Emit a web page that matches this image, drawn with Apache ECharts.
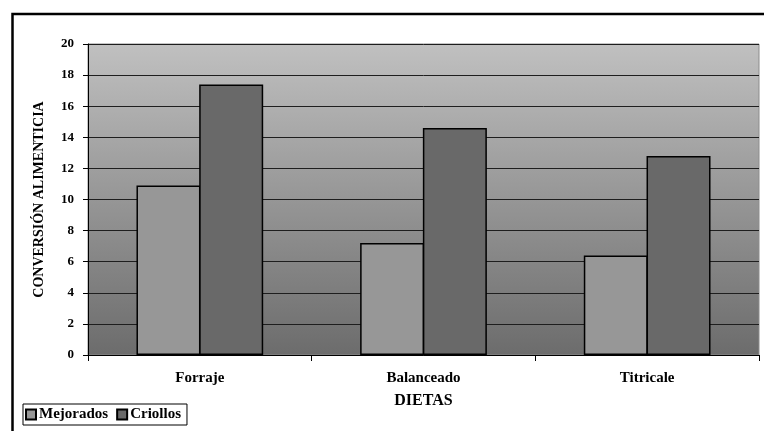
<!DOCTYPE html>
<html>
<head>
<meta charset="utf-8">
<style>
  html, body { margin: 0; padding: 0; background: #fff; }
  #chart { width: 764px; height: 431px; }
</style>
<script src="https://cdn.jsdelivr.net/npm/echarts@6/dist/echarts.min.js"></script>
</head>
<body>
<div id="chart"></div>
<script>
// Feed conversion by diet, improved vs. native animals
const dietas = ['Forraje', 'Balanceado', 'Titricale'];
const mejorados = [10.9, 7.2, 6.4];
const criollos = [17.4, 14.6, 12.8];
const seriesNames = ['Mejorados', 'Criollos'];

const SERIF = '"Liberation Serif", "Times New Roman", serif';

const chart = echarts.init(document.getElementById('chart'), null, { renderer: 'canvas' });

chart.setOption({
  animation: false,
  backgroundColor: '#ffffff',
  textStyle: { fontFamily: SERIF },
  grid: {
    left: 88, top: 44, right: 5, bottom: 76,
    show: true,
    borderColor: '#8c8c8c',
    borderWidth: 1,
    backgroundColor: {
      type: 'linear', x: 0, y: 0, x2: 0, y2: 1,
      colorStops: [
        { offset: 0, color: '#c0c0c0' },
        { offset: 1, color: '#6c6c6c' }
      ]
    }
  },
  legend: {
    data: seriesNames,
    left: 23,
    top: 404,
    orient: 'horizontal',
    itemWidth: 10,
    itemHeight: 10,
    itemGap: 8,
    padding: [3, 6, 3, 2],
    borderColor: '#000',
    borderWidth: 1,
    icon: 'rect',
    textStyle: { fontFamily: SERIF, fontWeight: 'bold', fontSize: 15, color: '#000', padding: [0, 0, 0, -2] }
  },
  xAxis: {
    type: 'category',
    data: dietas,
    name: 'DIETAS',
    nameLocation: 'middle',
    nameGap: 38,
    nameTextStyle: { fontFamily: SERIF, fontWeight: 'bold', fontSize: 16, color: '#000' },
    axisLine: { lineStyle: { color: '#000', width: 1 } },
    axisTick: { show: true, length: 6, alignWithLabel: false, lineStyle: { color: '#000' } },
    axisLabel: { margin: 16, fontFamily: SERIF, fontWeight: 'bold', fontSize: 15, color: '#000' },
    splitLine: { show: false }
  },
  yAxis: {
    type: 'value',
    min: 0, max: 20, interval: 2,
    name: 'CONVERSIÓN ALIMENTICIA',
    nameLocation: 'middle',
    nameRotate: 90,
    nameGap: 42,
    nameTextStyle: { fontFamily: SERIF, fontWeight: 'bold', fontSize: 14, color: '#000' },
    axisLine: { show: true, lineStyle: { color: '#000', width: 1 } },
    axisTick: { show: true, length: 5, lineStyle: { color: '#000' } },
    axisLabel: { margin: 14, fontFamily: SERIF, fontWeight: 'bold', fontSize: 13, color: '#000' },
    splitLine: { show: true, lineStyle: { color: '#1e1e1e', width: 1 } }
  },
  series: [
    {
      name: seriesNames[0],
      type: 'bar',
      data: mejorados,
      barWidth: 64,
      barGap: '-2%',
      itemStyle: { color: '#979797', borderColor: '#000', borderWidth: 1.5 }
    },
    {
      name: seriesNames[1],
      type: 'bar',
      data: criollos,
      barWidth: 64,
      barGap: '-2%',
      itemStyle: { color: '#696969', borderColor: '#000', borderWidth: 1.5 }
    }
  ],
  graphic: [
    {
      type: 'rect',
      silent: true,
      z: 100,
      shape: { x: 12.5, y: 14, width: 800, height: 500 },
      style: { fill: null, stroke: '#000', lineWidth: 2.5 }
    }
  ]
});
</script>
</body>
</html>
